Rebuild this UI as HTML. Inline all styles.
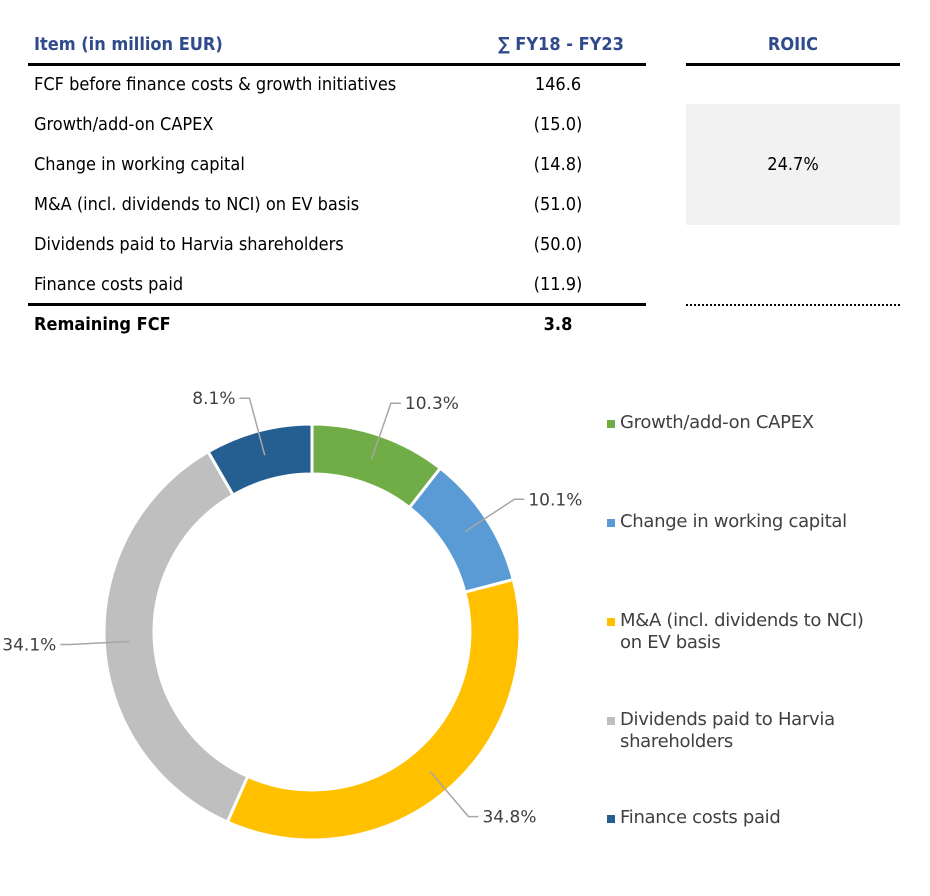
<!DOCTYPE html>
<html><head><meta charset="utf-8">
<style>
body{margin:0;width:930px;height:896px;background:#fff;position:relative;font-family:"DejaVu Sans Condensed","Liberation Sans Narrow","Liberation Sans",sans-serif;overflow:hidden}
.t{position:absolute;font-size:18px;color:#000;white-space:nowrap;line-height:20px}
.h{color:#2f4b8c;font-weight:bold}
.v{width:120px;text-align:center;left:498px}
.ln{position:absolute;background:#000}
.lg{position:absolute;left:620px;font-size:18px;color:#404040;line-height:22px;font-family:"DejaVu Sans","Liberation Sans",sans-serif;letter-spacing:-0.3px}
.sq{position:absolute;left:-13px;top:8px;width:8px;height:8px}
</style></head><body>
<div>
<div class="t h" style="left:34px;top:35px">Item (in million EUR)</div>
<div class="t h v" style="top:35px">∑ FY18 - FY23</div>
<div class="t h" style="left:686px;width:214px;text-align:center;top:35px">ROIIC</div>
<div class="ln" style="left:28px;top:63px;width:618px;height:3px"></div>
<div class="ln" style="left:686px;top:63px;width:214px;height:3px"></div>
<div class="t" style="left:34px;top:75px">FCF before finance costs &amp; growth initiatives</div>
<div class="t v" style="top:75px">146.6</div>
<div class="t" style="left:34px;top:115px">Growth/add-on CAPEX</div>
<div class="t v" style="top:115px">(15.0)</div>
<div class="t" style="left:34px;top:155px">Change in working capital</div>
<div class="t v" style="top:155px">(14.8)</div>
<div class="t" style="left:34px;top:195px">M&amp;A (incl. dividends to NCI) on EV basis</div>
<div class="t v" style="top:195px">(51.0)</div>
<div class="t" style="left:34px;top:235px">Dividends paid to Harvia shareholders</div>
<div class="t v" style="top:235px">(50.0)</div>
<div class="t" style="left:34px;top:275px">Finance costs paid</div>
<div class="t v" style="top:275px">(11.9)</div>
<div class="ln" style="left:28px;top:303px;width:618px;height:3px"></div>
<div style="position:absolute;left:686px;top:304px;width:214px;border-top:2px dotted #000"></div>
<div class="t" style="left:34px;top:315px;font-weight:bold">Remaining FCF</div>
<div class="t v" style="top:315px;font-weight:bold">3.8</div>
<div style="position:absolute;left:686px;top:104px;width:214px;height:121px;background:#f2f2f2"></div>
<div class="t" style="left:686px;width:214px;text-align:center;top:155px">24.7%</div>
</div>

<svg id="donut" width="600" height="540" style="position:absolute;left:0;top:356px"></svg>

<div class="lg" style="top:412px"><span class="sq" style="background:#70ad47"></span>Growth/add-on CAPEX</div>
<div class="lg" style="top:511px"><span class="sq" style="background:#5b9bd5"></span>Change in working capital</div>
<div class="lg" style="top:610px"><span class="sq" style="background:#ffc000"></span>M&amp;A (incl. dividends to NCI)<br>on EV basis</div>
<div class="lg" style="top:709px"><span class="sq" style="background:#bfbfbf"></span>Dividends paid to Harvia<br>shareholders</div>
<div class="lg" style="top:807px"><span class="sq" style="background:#255e91"></span>Finance costs paid</div>

<script>
const categories = ["Growth/add-on CAPEX","Change in working capital","M&A on EV basis","Dividends paid","Finance costs paid"];
const shares = [10.3, 10.1, 34.8, 34.1, 8.1];
const pctLabels = ["10.3%","10.1%","34.8%","34.1%","8.1%"];
const colors = ["#70ad47","#5b9bd5","#ffc000","#bfbfbf","#255e91"];
const NS="http://www.w3.org/2000/svg";
const svg=document.getElementById('donut');
const cx=312, cy=276, R=208, r=158;
const total=shares.reduce((a,b)=>a+b,0);
function pt(rad,a){return [cx+rad*Math.sin(a), cy-rad*Math.cos(a)];}
let acc=0;
shares.forEach((v,i)=>{
  const a0=acc/total*2*Math.PI; acc+=v; const a1=acc/total*2*Math.PI;
  const lg=(a1-a0)>Math.PI?1:0;
  const p0=pt(R,a0),p1=pt(R,a1),q1=pt(r,a1),q0=pt(r,a0);
  const p=document.createElementNS(NS,'path');
  p.setAttribute('d',`M${p0[0]},${p0[1]} A${R},${R} 0 ${lg} 1 ${p1[0]},${p1[1]} L${q1[0]},${q1[1]} A${r},${r} 0 ${lg} 0 ${q0[0]},${q0[1]} Z`);
  p.setAttribute('fill',colors[i]);p.setAttribute('stroke','#fff');p.setAttribute('stroke-width','3');
  
  
  svg.appendChild(p);
  const am=(a0+a1)/2;
  const s=pt(183,am), e=pt(242,am);
  const right=Math.sin(am)>0.2, left=Math.sin(am)<-0.2;
  const ex=right?e[0]+10:(left?e[0]-10:e[0]);
  const l=document.createElementNS(NS,'polyline');
  l.setAttribute('points',`${s[0]},${s[1]} ${e[0]},${e[1]} ${ex},${e[1]}`);
  l.setAttribute('fill','none');l.setAttribute('stroke','#a6a6a6');l.setAttribute('stroke-width','1.5');
  
  
  svg.appendChild(l);
  const t=document.createElementNS(NS,'text');
  const top=!right&&!left;
  t.setAttribute('x',right?ex+4:(left?ex-4:ex));
  t.setAttribute('y',top?e[1]-14:e[1]+6);
  t.setAttribute('text-anchor',right?'start':(left?'end':'middle'));
  t.setAttribute('font-size','17');t.setAttribute('fill','#404040');
  t.setAttribute('font-family','"DejaVu Sans","Liberation Sans",sans-serif');
  t.textContent=pctLabels[i];
  
  
  svg.appendChild(t);
});
</script>
</body></html>
